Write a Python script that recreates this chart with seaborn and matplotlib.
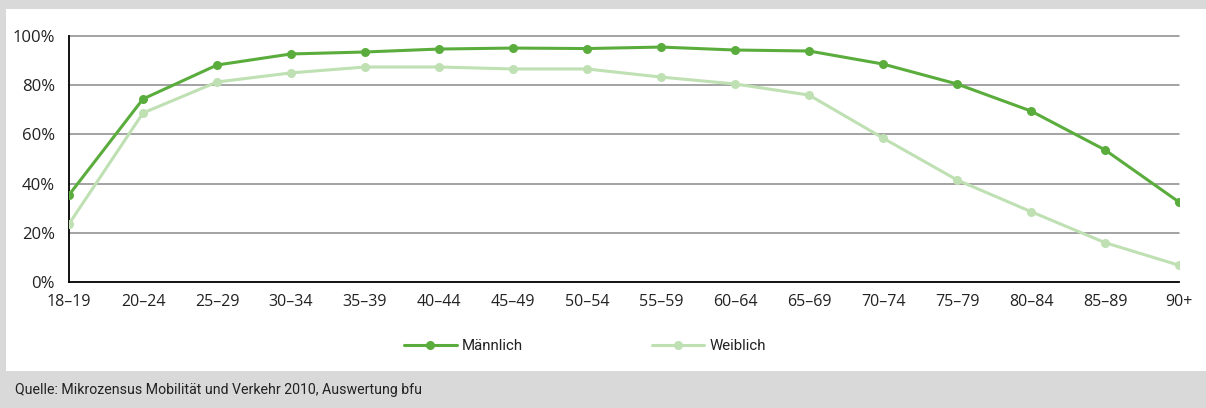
import matplotlib
matplotlib.use("Agg")
import matplotlib.pyplot as plt
import seaborn as sns
import pandas as pd
from matplotlib.patches import Rectangle
from matplotlib.lines import Line2D
from matplotlib.ticker import FuncFormatter

age_groups = ["18–19", "20–24", "25–29", "30–34", "35–39", "40–44", "45–49", "50–54",
              "55–59", "60–64", "65–69", "70–74", "75–79", "80–84", "85–89", "90+"]
maennlich = [35.4, 74.4, 88.2, 92.7, 93.5, 94.7, 95.1, 94.9, 95.5, 94.3, 93.9, 88.6, 80.5, 69.5, 53.7, 32.5]
weiblich = [23.6, 68.7, 81.3, 85.0, 87.4, 87.4, 86.6, 86.6, 83.3, 80.5, 76.0, 58.5, 41.5, 28.6, 16.0, 6.8]
series_names = ["Männlich", "Weiblich"]
y_ticks = [0, 20, 40, 60, 80, 100]
source_text = "Quelle: Mikrozensus Mobilität und Verkehr 2010, Auswertung bfu"

sns.set_theme(style="white")
plt.rcParams['font.family'] = ['Open Sans', 'DejaVu Sans']
narrow = ['Roboto', 'DejaVu Sans']

df = pd.DataFrame({
    "age": age_groups * 2,
    "x": list(range(len(age_groups))) * 2,
    "value": maennlich + weiblich,
    "sex": [series_names[0]] * len(age_groups) + [series_names[1]] * len(age_groups),
})

colors = {"Männlich": "#5aad3c", "Weiblich": "#bfe0b3"}

fig = plt.figure(figsize=(12.06, 4.08), dpi=100)
fig.patch.set_facecolor("#d9d9d9")
fig.add_artist(Rectangle((6 / 1206, 37 / 408), 1 - 6 / 1206, 1 - 37 / 408 - 9 / 408,
                         transform=fig.transFigure, facecolor="white", edgecolor="none", zorder=0))

ax = fig.add_axes([69 / 1206, 1 - 282 / 408, (1179 - 69) / 1206, (282 - 36) / 408])
ax.set_facecolor("white")

sns.lineplot(data=df, x="x", y="value", hue="sex", palette=colors, marker="o",
             markersize=6.5, markeredgewidth=0, linewidth=2.2, ax=ax, legend=False, zorder=3)

ax.set_xlim(0, len(age_groups) - 1)
ax.set_ylim(0, 100)
ax.set_xticks(range(len(age_groups)))
ax.set_xticklabels(age_groups)
ax.set_yticks(y_ticks)
ax.yaxis.set_major_formatter(FuncFormatter(lambda v, p: f"{int(v)}%"))
ax.set_xlabel("")
ax.set_ylabel("")

for v in y_ticks[1:]:
    ax.axhline(v, color="#8a8a8a", linewidth=1.1, zorder=1, clip_on=False)

for s in ["top", "right"]:
    ax.spines[s].set_visible(False)
for s in ["left", "bottom"]:
    ax.spines[s].set_visible(True)
    ax.spines[s].set_color("black")
    ax.spines[s].set_linewidth(1.3)

ax.tick_params(axis="both", which="major", length=6, width=1, color="#555555",
               labelsize=11.5, labelcolor="#222222", direction="out")
ax.tick_params(axis="x", pad=3)
ax.tick_params(axis="y", pad=4)
for lbl in ax.get_yticklabels():
    lbl.set_fontsize(12)

handles = [Line2D([0], [0], color=colors[n], marker="o", markersize=6.5, markeredgewidth=0,
                  linewidth=2.2) for n in series_names]
fig.legend(handles, series_names, loc="center", bbox_to_anchor=(585 / 1206, 1 - 346 / 408),
           ncol=2, frameon=False, prop={"family": narrow, "size": 10.8},
           handlelength=3.5, handletextpad=0.33, columnspacing=8.6, labelcolor="#222222")

fig.text(15 / 1206, 1 - 390 / 408, source_text, fontsize=10.2, color="#222222",
         ha="left", va="center", family=narrow)

fig.savefig("out.png", dpi=100, facecolor=fig.get_facecolor())
